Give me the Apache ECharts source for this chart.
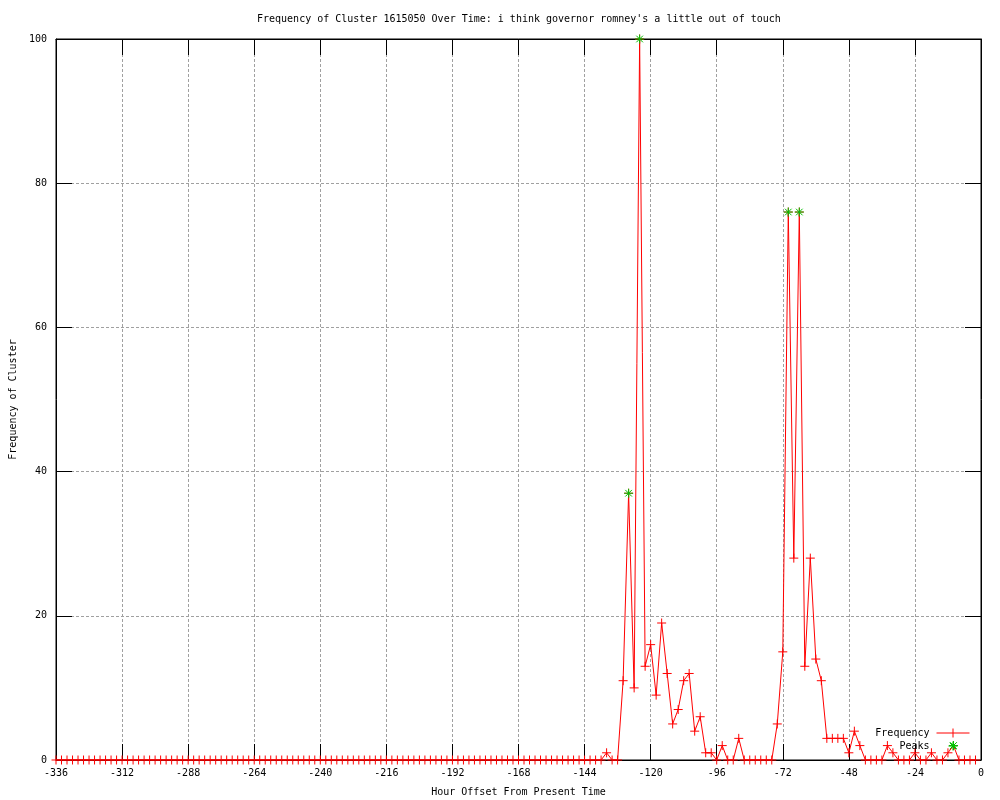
<!DOCTYPE html>
<html><head><meta charset="utf-8">
<script src="https://cdn.jsdelivr.net/npm/echarts@6/dist/echarts.min.js"></script>
<style>html,body{margin:0;padding:0;background:#fff}#c{width:1000px;height:800px}</style>
</head><body><div id="c"></div>
<script>
const titleText = "Frequency of Cluster 1615050 Over Time: i think governor romney's a little out of touch";
const xAxisName = "Hour Offset From Present Time";
const yAxisName = "Frequency of Cluster";
const hourStart = -336;
const hourStep = 2;
// frequency per 2-hour bin, from -336 to -2
const freq = [
  0,0,0,0,0,0,0,0,0,0, 0,0,0,0,0,0,0,0,0,0,
  0,0,0,0,0,0,0,0,0,0, 0,0,0,0,0,0,0,0,0,0,
  0,0,0,0,0,0,0,0,0,0, 0,0,0,0,0,0,0,0,0,0,
  0,0,0,0,0,0,0,0,0,0, 0,0,0,0,0,0,0,0,0,0,
  0,0,0,0,0,0,0,0,0,0, 0,0,0,0,0,0,0,0,0,0,
  1,0,0,11,37,10,100,13,16,9,
  19,12,5,7,11,12,4,6,1,1,
  0,2,0,0,3,0,0,0,0,0,
  0,5,15,76,28,76,13,28,14,11,
  3,3,3,3,1,4,2,0,0,0,
  0,2,1,0,0,0,1,0,0,1,
  0,0,1,2,0,0,0,0
];
const peakHours = [-128, -124, -70, -66, -10];
const peakValues = [37, 100, 76, 76, 2];

const hours = freq.map((_, i) => hourStart + i * hourStep);
const freqData = hours.map((h, i) => [h, freq[i]]);
const peakData = peakHours.map((h, i) => [h, peakValues[i]]);

const FONT = 'DejaVu Sans Mono';
const RED = '#ff0000';
const GREEN = '#00c000';
const plusSym = 'path://M0,4.5L9,4.5M4.5,0L4.5,9';
const starSym = 'path://M0,4.5L9,4.5M4.5,0L4.5,9M1.2,1.2L7.8,7.8M1.2,7.8L7.8,1.2';
const freqLegendIcon = 'path://M0,4.5L33,4.5M16.5,0L16.5,9';
const peakLegendIcon = 'path://M12,4.5L21,4.5M16.5,0L16.5,9M13.2,1.2L19.8,7.8M13.2,7.8L19.8,1.2M0,0.01L0.01,0.01M33,0.01L33.01,0.01';
const gridDash = {color: '#a0a0a0', type: [3, 2], width: 1};
const legendText = {fontFamily: FONT, fontSize: 10, color: '#000', padding: [0, 2, 0, 0]};

const chart = echarts.init(document.getElementById('c'), null, {renderer: 'canvas'});
chart.setOption({
  animation: false,
  backgroundColor: '#fff',
  title: {
    text: titleText, left: 257, top: 14, padding: 0,
    textStyle: {fontFamily: FONT, fontSize: 10, fontWeight: 'normal', color: '#000'}
  },
  legend: [
    {data: [{name: 'Frequency', icon: freqLegendIcon}], right: 30, top: 728, padding: 0, align: 'right', orient: 'vertical',
     itemWidth: 33, itemHeight: 9, selectedMode: false, textStyle: legendText,
     itemStyle: {color: RED, borderColor: RED, borderWidth: 1}},
    {data: [{name: 'Peaks', icon: peakLegendIcon}], right: 30, top: 741, padding: 0, align: 'right', orient: 'vertical',
     itemWidth: 33, itemHeight: 9, selectedMode: false, textStyle: legendText,
     itemStyle: {color: GREEN, borderColor: GREEN, borderWidth: 1}}
  ],
  grid: {left: 56, right: 19, top: 39, bottom: 40, show: true, borderColor: '#000', borderWidth: 1,
         containLabel: false, outerBoundsMode: 'none'},
  xAxis: [
    {type: 'value', min: -336, max: 0, interval: 24, position: 'bottom',
     name: xAxisName, nameLocation: 'middle', nameGap: 27,
     nameTextStyle: {fontFamily: FONT, fontSize: 10, color: '#000'},
     axisLine: {show: true, onZero: false, lineStyle: {color: '#000', width: 1}},
     axisTick: {show: true, inside: true, length: 16, lineStyle: {color: '#000'}},
     axisLabel: {fontFamily: FONT, fontSize: 10, color: '#000', margin: 8},
     splitLine: {show: true, lineStyle: gridDash}},
    {type: 'value', min: -336, max: 0, interval: 24, position: 'top',
     axisLine: {show: true, onZero: false, lineStyle: {color: '#000', width: 1}},
     axisTick: {show: true, inside: true, length: 16, lineStyle: {color: '#000'}},
     axisLabel: {show: false}, splitLine: {show: false}}
  ],
  yAxis: [
    {type: 'value', min: 0, max: 100, interval: 20, position: 'left',
     name: yAxisName, nameLocation: 'middle', nameGap: 38, nameRotate: 90,
     nameTextStyle: {fontFamily: FONT, fontSize: 10, color: '#000'},
     axisLine: {show: true, onZero: false, lineStyle: {color: '#000', width: 1}},
     axisTick: {show: true, inside: true, length: 16, lineStyle: {color: '#000'}},
     axisLabel: {fontFamily: FONT, fontSize: 10, color: '#000', margin: 9},
     splitLine: {show: true, lineStyle: gridDash}},
    {type: 'value', min: 0, max: 100, interval: 20, position: 'right',
     axisLine: {show: true, onZero: false, lineStyle: {color: '#000', width: 1}},
     axisTick: {show: true, inside: true, length: 16, lineStyle: {color: '#000'}},
     axisLabel: {show: false}, splitLine: {show: false}}
  ],
  series: [
    {name: 'Frequency', type: 'line', data: freqData, xAxisIndex: 0, yAxisIndex: 0,
     symbol: plusSym, symbolSize: 9, showAllSymbol: true, silent: true,
     lineStyle: {color: RED, width: 1},
     itemStyle: {color: RED, borderColor: RED, borderWidth: 1},
     emphasis: {disabled: true}, z: 3},
    {name: 'Peaks', type: 'scatter', data: peakData, xAxisIndex: 0, yAxisIndex: 0,
     symbol: starSym, symbolSize: 9, symbolKeepAspect: true, silent: true,
     itemStyle: {color: GREEN, borderColor: GREEN, borderWidth: 1, opacity: 1},
     emphasis: {disabled: true}, z: 4}
  ]
});
</script></body></html>
